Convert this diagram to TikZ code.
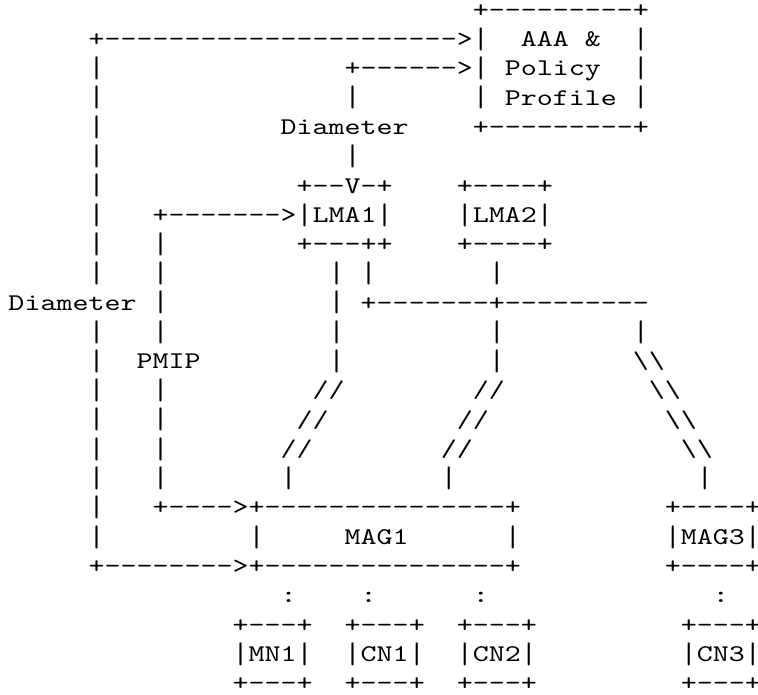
\documentclass[tikz,border=0pt]{standalone}
\usepackage{fontspec}
\usepackage{graphicx}
\usepackage{tikz}
\newfontfamily\asciifont{lmmono10-regular.otf}[FakeStretch=1.2706]
\newcommand\asciibar{\sbox0{|}%
    \raisebox{\dimexpr(\ht0-\dp0)/2-(\ht0-\dp0)*124/200\relax}{\scalebox{1}[1.24]{|}}}

\begin{document}
\begin{tikzpicture}[x=12.0075pt,y=-21.9525pt]
    \tikzstyle{ascii}=[anchor=base west, inner sep=0pt, outer sep=0pt, text=black,
        font=\asciifont\fontsize{18pt}{20pt}\selectfont]

    \useasboundingbox (0pt,0pt) rectangle (568.5pt,-520.5pt);

    \begin{scope}[shift={(6.375pt,-13.05pt)}]
    \node[ascii] (aaaT)  at (29,0)  {+---------+};
    \node[ascii] (aaa)   at (32,1)  {AAA};
    \node[ascii] (amp)   at (36,1)  {\&};
    \node[ascii] (pol)   at (31,2)  {Policy};
    \node[ascii] (prof)  at (31,3)  {Profile};
    \node[ascii] (aaaB)  at (29,4)  {+---------+};
    \foreach \r in {1,2,3} {
        \node[ascii] (aaaL\r) at (29,\r) {\asciibar};
        \node[ascii] (aaaR\r) at (39,\r) {\asciibar};
    }

    \node[ascii] (diaT)  at (5,1)   {+---------------------->};
    \node[ascii] (lmaA)  at (21,2)  {+------>};
    \node[ascii] (lmaU3) at (21,3)  {\asciibar};
    \node[ascii] (diaM)  at (17,4)  {Diameter};
    \node[ascii] (lmaU5) at (21,5)  {\asciibar};

    \node[ascii] (lma1T) at (18,6)  {+--V-+};
    \node[ascii] (lma1)  at (18,7)  {\asciibar LMA1\asciibar};
    \node[ascii] (lma1B) at (18,8)  {+---++};
    \node[ascii] (lma2T) at (28,6)  {+----+};
    \node[ascii] (lma2)  at (28,7)  {\asciibar LMA2\asciibar};
    \node[ascii] (lma2B) at (28,8)  {+----+};

    \node[ascii] (pmipT) at (9,7)   {+------->};
    \node[ascii] (diaL)  at (0,10)  {Diameter};
    \node[ascii] (pmip)  at (8,12)  {PMIP};
    \foreach \r in {2,...,9,11,12,...,18}
        \node[ascii] (diaV\r) at (5,\r) {\asciibar};
    \foreach \r in {8,9,10,11,13,14,15,16}
        \node[ascii] (pmipV\r) at (9,\r) {\asciibar};

    \node[ascii] (lma1S) at (22,9)  {\asciibar};
    \node[ascii] (bus)   at (22,10) {+-------+---------};
    \foreach \r in {9,...,12}
        \node[ascii] (magA\r) at (20,\r) {\asciibar};
    \foreach \r in {9,11,12}
        \node[ascii] (magB\r) at (30,\r) {\asciibar};
    \node[ascii] (magC11) at (39,11) {\asciibar};

    \node[ascii] (sA13) at (19,13) {//};
    \node[ascii] (sA14) at (18,14) {//};
    \node[ascii] (sA15) at (17,15) {//};
    \node[ascii] (sB13) at (29,13) {//};
    \node[ascii] (sB14) at (28,14) {//};
    \node[ascii] (sB15) at (27,15) {//};
    \node[ascii] (sC12) at (39,12) {\textbackslash\textbackslash};
    \node[ascii] (sC13) at (40,13) {\textbackslash\textbackslash};
    \node[ascii] (sC14) at (41,14) {\textbackslash\textbackslash};
    \node[ascii] (sC15) at (42,15) {\textbackslash\textbackslash};
    \node[ascii] (magA16) at (17,16) {\asciibar};
    \node[ascii] (magB16) at (27,16) {\asciibar};
    \node[ascii] (magC16) at (43,16) {\asciibar};

    \node[ascii] (pmipB) at (9,17)  {+---->};
    \node[ascii] (mag1T) at (15,17) {+---------------+};
    \node[ascii] (mag1L) at (15,18) {\asciibar};
    \node[ascii] (mag1)  at (21,18) {MAG1};
    \node[ascii] (mag1R) at (31,18) {\asciibar};
    \node[ascii] (diaB)  at (5,19)  {+-------->};
    \node[ascii] (mag1B) at (15,19) {+---------------+};
    \node[ascii] (mag3T) at (41,17) {+----+};
    \node[ascii] (mag3)  at (41,18) {\asciibar MAG3\asciibar};
    \node[ascii] (mag3B) at (41,19) {+----+};

    \foreach \c/\d in {14/17,21/22,28/29,42/44}
        \node[ascii] (dots\c) at (\d,20) {:};
    \foreach \c/\t in {14/MN1,21/CN1,28/CN2,42/CN3} {
        \node[ascii] (\t-top) at (\c,21) {+---+};
        \node[ascii] (\t)     at (\c,22) {\asciibar\t\asciibar};
        \node[ascii] (\t-bot) at (\c,23) {+---+};
    }
    \end{scope}
\end{tikzpicture}
\end{document}
